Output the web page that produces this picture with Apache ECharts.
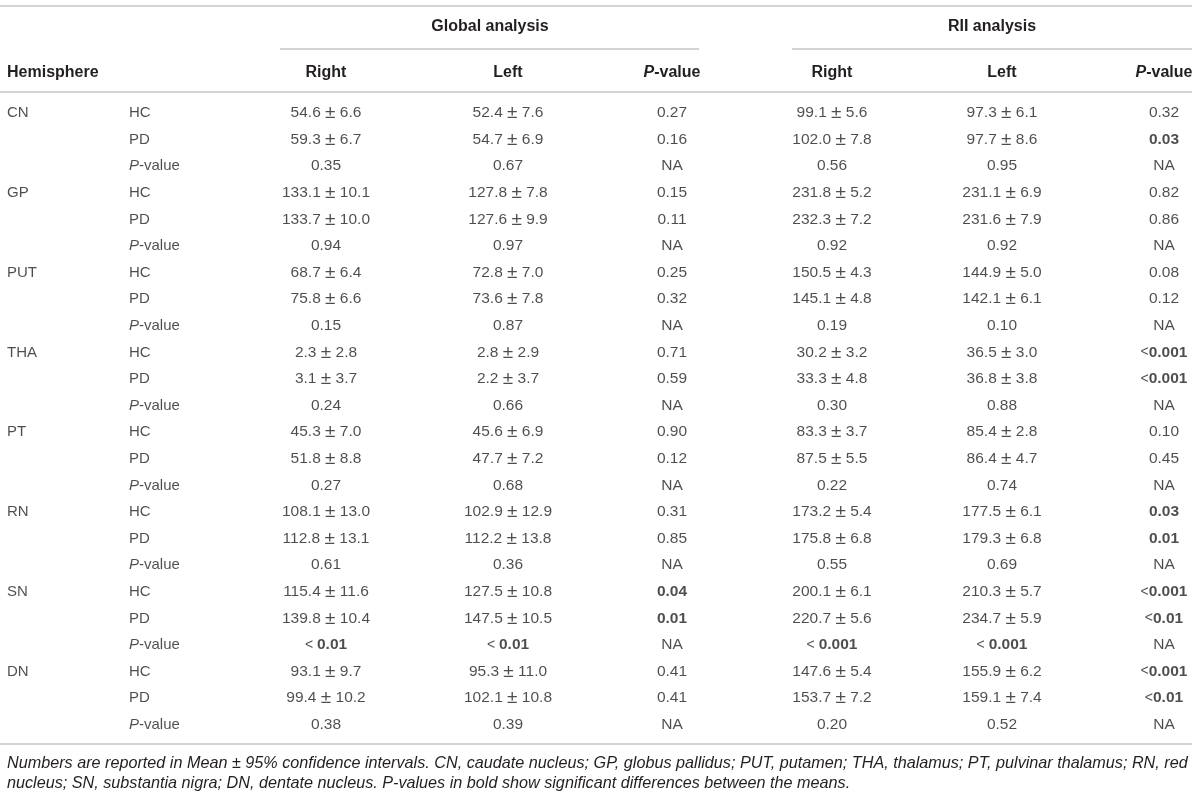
<!DOCTYPE html>
<html>
<head>
<meta charset="utf-8">
<script src="https://cdn.jsdelivr.net/npm/echarts@6/dist/echarts.min.js"></script>
<style>
html, body { margin: 0; padding: 0; background: #fff; }
#chart { width: 1200px; height: 796px; }
</style>
</head>
<body>
<div id="chart"></div>
<script>
// row labels
var structures = ['CN', 'GP', 'PUT', 'THA', 'PT', 'RN', 'SN', 'DN'];
var groups = ['HC', 'PD', 'P-value'];
var colNames = ['Right', 'Left', 'P-value', 'Right', 'Left', 'P-value'];
var sections = ['Global analysis', 'RII analysis'];

// table columns, 3 rows (HC, PD, P-value) per structure
var globalRight = ['54.6 ± 6.6', '59.3 ± 6.7', '0.35', '133.1 ± 10.1', '133.7 ± 10.0', '0.94',
  '68.7 ± 6.4', '75.8 ± 6.6', '0.15', '2.3 ± 2.8', '3.1 ± 3.7', '0.24',
  '45.3 ± 7.0', '51.8 ± 8.8', '0.27', '108.1 ± 13.0', '112.8 ± 13.1', '0.61',
  '115.4 ± 11.6', '139.8 ± 10.4', '< 0.01', '93.1 ± 9.7', '99.4 ± 10.2', '0.38'];
var globalLeft = ['52.4 ± 7.6', '54.7 ± 6.9', '0.67', '127.8 ± 7.8', '127.6 ± 9.9', '0.97',
  '72.8 ± 7.0', '73.6 ± 7.8', '0.87', '2.8 ± 2.9', '2.2 ± 3.7', '0.66',
  '45.6 ± 6.9', '47.7 ± 7.2', '0.68', '102.9 ± 12.9', '112.2 ± 13.8', '0.36',
  '127.5 ± 10.8', '147.5 ± 10.5', '< 0.01', '95.3 ± 11.0', '102.1 ± 10.8', '0.39'];
var globalP = ['0.27', '0.16', 'NA', '0.15', '0.11', 'NA',
  '0.25', '0.32', 'NA', '0.71', '0.59', 'NA',
  '0.90', '0.12', 'NA', '0.31', '0.85', 'NA',
  '0.04', '0.01', 'NA', '0.41', '0.41', 'NA'];
var riiRight = ['99.1 ± 5.6', '102.0 ± 7.8', '0.56', '231.8 ± 5.2', '232.3 ± 7.2', '0.92',
  '150.5 ± 4.3', '145.1 ± 4.8', '0.19', '30.2 ± 3.2', '33.3 ± 4.8', '0.30',
  '83.3 ± 3.7', '87.5 ± 5.5', '0.22', '173.2 ± 5.4', '175.8 ± 6.8', '0.55',
  '200.1 ± 6.1', '220.7 ± 5.6', '< 0.001', '147.6 ± 5.4', '153.7 ± 7.2', '0.20'];
var riiLeft = ['97.3 ± 6.1', '97.7 ± 8.6', '0.95', '231.1 ± 6.9', '231.6 ± 7.9', '0.92',
  '144.9 ± 5.0', '142.1 ± 6.1', '0.10', '36.5 ± 3.0', '36.8 ± 3.8', '0.88',
  '85.4 ± 2.8', '86.4 ± 4.7', '0.74', '177.5 ± 6.1', '179.3 ± 6.8', '0.69',
  '210.3 ± 5.7', '234.7 ± 5.9', '< 0.001', '155.9 ± 6.2', '159.1 ± 7.4', '0.52'];
var riiP = ['0.32', '0.03', 'NA', '0.82', '0.86', 'NA',
  '0.08', '0.12', 'NA', '<0.001', '<0.001', 'NA',
  '0.10', '0.45', 'NA', '0.03', '0.01', 'NA',
  '<0.001', '<0.01', 'NA', '<0.001', '<0.01', 'NA'];

// [row, column] of the values printed in bold
var boldCells = [[1, 5], [9, 5], [10, 5], [15, 5], [16, 5], [18, 2], [18, 5], [19, 2], [19, 5],
  [20, 0], [20, 1], [20, 3], [20, 4], [21, 5], [22, 5]];

var footnote = [
  'Numbers are reported in Mean ± 95% confidence intervals. CN, caudate nucleus; GP, globus pallidus; PUT, putamen; THA, thalamus; PT, pulvinar thalamus; RN, red',
  'nucleus; SN, substantia nigra; DN, dentate nucleus. P-values in bold show significant differences between the means.'
];

// layout
var colX = [326, 508, 672, 832, 1002, 1164];
var structX = 7, groupX = 129;
var font = '"Liberation Sans", Arial, sans-serif';
var ink = '#231f20';
var rule = '#c4c4c4';

var columns = [globalRight, globalLeft, globalP, riiRight, riiLeft, riiP];
var rowNames = [];
structures.forEach(function (s) {
  groups.forEach(function (g) { rowNames.push(s + ' ' + g); });
});

var rich = {
  n: { fontFamily: font, fontSize: 15.5, color: ink },
  pm: { fontFamily: font, fontSize: 19, color: ink },
  lt: { fontFamily: font, fontSize: 14, color: ink },
  i: { fontFamily: font, fontSize: 15, color: ink, fontStyle: 'italic' },
  l: { fontFamily: font, fontSize: 15, color: ink },
  v: { fontFamily: font, fontSize: 15.5, color: ink, fontWeight: 'bold' },
  b: { fontFamily: font, fontSize: 16, color: ink, fontWeight: 'bold' },
  bi: { fontFamily: font, fontSize: 16, color: ink, fontWeight: 'bold', fontStyle: 'italic' }
};

function isBold(r, c) {
  return boldCells.some(function (bc) { return bc[0] === r && bc[1] === c; });
}

// cell text: ± drawn a bit larger, "<" kept light in bold cells
function cellText(txt, bold) {
  if (!bold) {
    var parts = txt.split(' ± ');
    if (parts.length === 2) return '{n|' + parts[0] + ' }{pm|±}{n| ' + parts[1] + '}';
    return '{n|' + txt + '}';
  }
  var m = txt.match(/^(<\s?)(.*)$/);
  if (m) return '{lt|' + m[1] + '}{v|' + m[2] + '}';
  return '{v|' + txt + '}';
}

function labelText(txt) {
  if (txt === 'P-value') return '{i|P}{l|-value}';
  return '{l|' + txt + '}';
}

function headText(txt) {
  if (txt === 'P-value') return '{bi|P}{b|-value}';
  return '{b|' + txt + '}';
}

var series = [];

columns.forEach(function (col, c) {
  series.push({
    type: 'scatter',
    symbolSize: 0,
    silent: true,
    data: col.map(function (v, r) { return [colX[c], r, v]; }),
    label: {
      show: true,
      position: 'inside',
      formatter: function (p) { return cellText(p.data[2], isBold(p.data[1], c)); },
      rich: rich
    }
  });
});

// hemisphere / group label columns
series.push({
  type: 'scatter',
  symbolSize: 0,
  silent: true,
  data: structures.map(function (s, k) { return [structX, k * groups.length, s]; }),
  label: { show: true, position: 'right', distance: 0, formatter: function (p) { return labelText(p.data[2]); }, rich: rich }
});
series.push({
  type: 'scatter',
  symbolSize: 0,
  silent: true,
  data: rowNames.map(function (n, r) { return [groupX, r, groups[r % groups.length]]; }),
  label: { show: true, position: 'right', distance: 0, formatter: function (p) { return labelText(p.data[2]); }, rich: rich }
});

function hline(x1, x2, y) {
  return { type: 'line', shape: { x1: x1, y1: y, x2: x2, y2: y }, style: { stroke: rule, lineWidth: 1.5 }, silent: true };
}
function htext(x, y, txt, align, extra) {
  return { type: 'text', x: x, y: y, silent: true,
    style: Object.assign({ text: txt, align: align, verticalAlign: 'middle', rich: rich,
      fontFamily: font, fontSize: 15, fill: ink }, extra || {}) };
}

var graphics = [
  hline(0, 1192, 6),
  hline(280, 699, 49),
  hline(792, 1192, 49),
  hline(0, 1192, 92),
  hline(0, 1192, 744),
  htext(490, 27, headText(sections[0]), 'center'),
  htext(992, 27, headText(sections[1]), 'center'),
  htext(structX, 73, headText('Hemisphere'), 'left')
];
colNames.forEach(function (n, c) {
  graphics.push(htext(colX[c], 73, headText(n), 'center'));
});
graphics.push(htext(structX, 763, footnote[0], 'left', { fontStyle: 'italic', fontSize: 16.2, rich: null }));
graphics.push(htext(structX, 783, footnote[1], 'left', { fontStyle: 'italic', fontSize: 16.2, rich: null }));

var chart = echarts.init(document.getElementById('chart'));
chart.setOption({
  animation: false,
  backgroundColor: '#fff',
  grid: { left: 0, right: 0, top: 99.7, bottom: 57.9 },
  xAxis: { type: 'value', min: 0, max: 1200, show: false },
  yAxis: { type: 'category', data: rowNames, inverse: true, show: false },
  series: series,
  graphic: graphics
});
</script>
</body>
</html>
